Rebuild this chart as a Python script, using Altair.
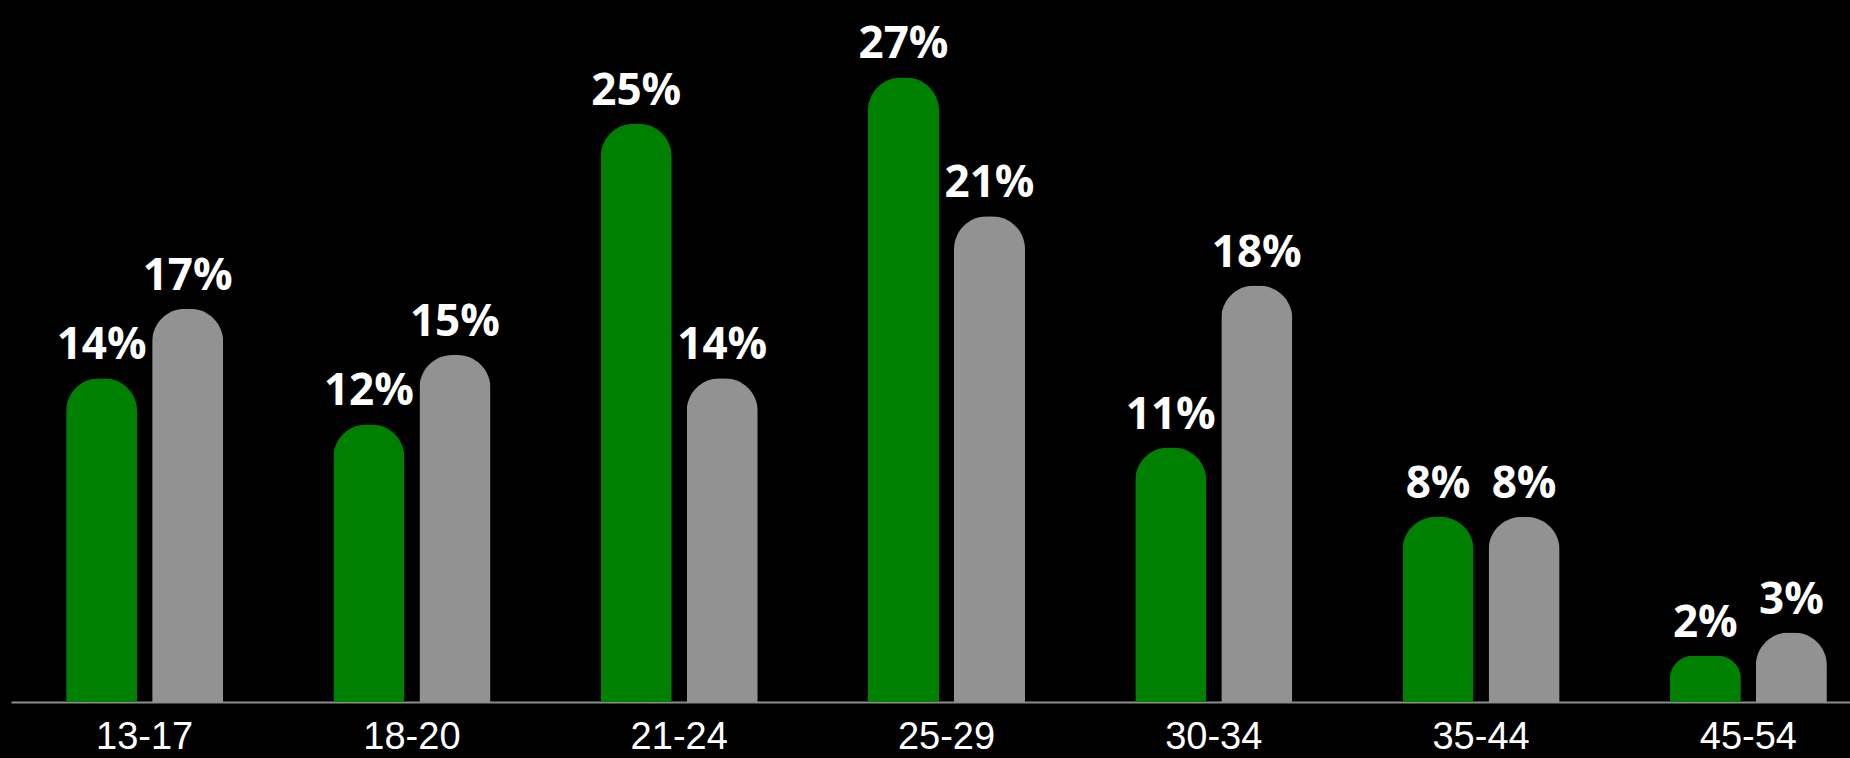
import altair as alt
import pandas as pd

categories = ["13-17", "18-20", "21-24", "25-29", "30-34", "35-44", "45-54"]
series_names = ["Group A", "Group B"]
group_a = [14, 12, 25, 27, 11, 8, 2]
group_b = [17, 15, 14, 21, 18, 8, 3]
colors = ["#008000", "#929292"]

rows = []
for i, c in enumerate(categories):
    rows.append({"age": c, "series": series_names[0], "value": group_a[i]})
    rows.append({"age": c, "series": series_names[1], "value": group_b[i]})
df = pd.DataFrame(rows)

x_enc = alt.X(
    "age:N",
    sort=categories,
    scale=alt.Scale(range=[0, 1871], paddingInner=0, paddingOuter=0),
    axis=alt.Axis(
        title=None,
        labelAngle=0,
        labelFontSize=38,
        labelFont="Liberation Sans",
        labelColor="white",
        labelPadding=16,
        ticks=False,
        domainColor="#8c8c8c",
        domainWidth=2,
        grid=False,
    ),
)
xoff_enc = alt.XOffset(
    "series:N",
    sort=series_names,
    scale=alt.Scale(paddingInner=0.1744, paddingOuter=0.641),
)
y_enc = alt.Y("value:Q", scale=alt.Scale(domain=[0, 30]), axis=None)

base = alt.Chart(df).encode(x=x_enc, xOffset=xoff_enc, y=y_enc)

bars = base.mark_bar(cornerRadiusTopLeft=33, cornerRadiusTopRight=33).encode(
    color=alt.Color("series:N", sort=series_names,
                    scale=alt.Scale(domain=series_names, range=colors), legend=None)
)

labels = base.transform_calculate(label="datum.value + '%'").mark_text(
    dy=-19, baseline="alphabetic", align="center",
    fontSize=44, fontWeight="bold", font="Open Sans", color="white"
).encode(text="label:N")

chart = (bars + labels).properties(
    width=1839,
    height=694,
    background="black",
    autosize=alt.AutoSizeParams(type="none"),
    padding={"left": 11, "top": 8, "right": 0, "bottom": 56},
).configure_view(stroke=None)

chart.save("out.html", embed_options={"renderer": "svg", "actions": False})
